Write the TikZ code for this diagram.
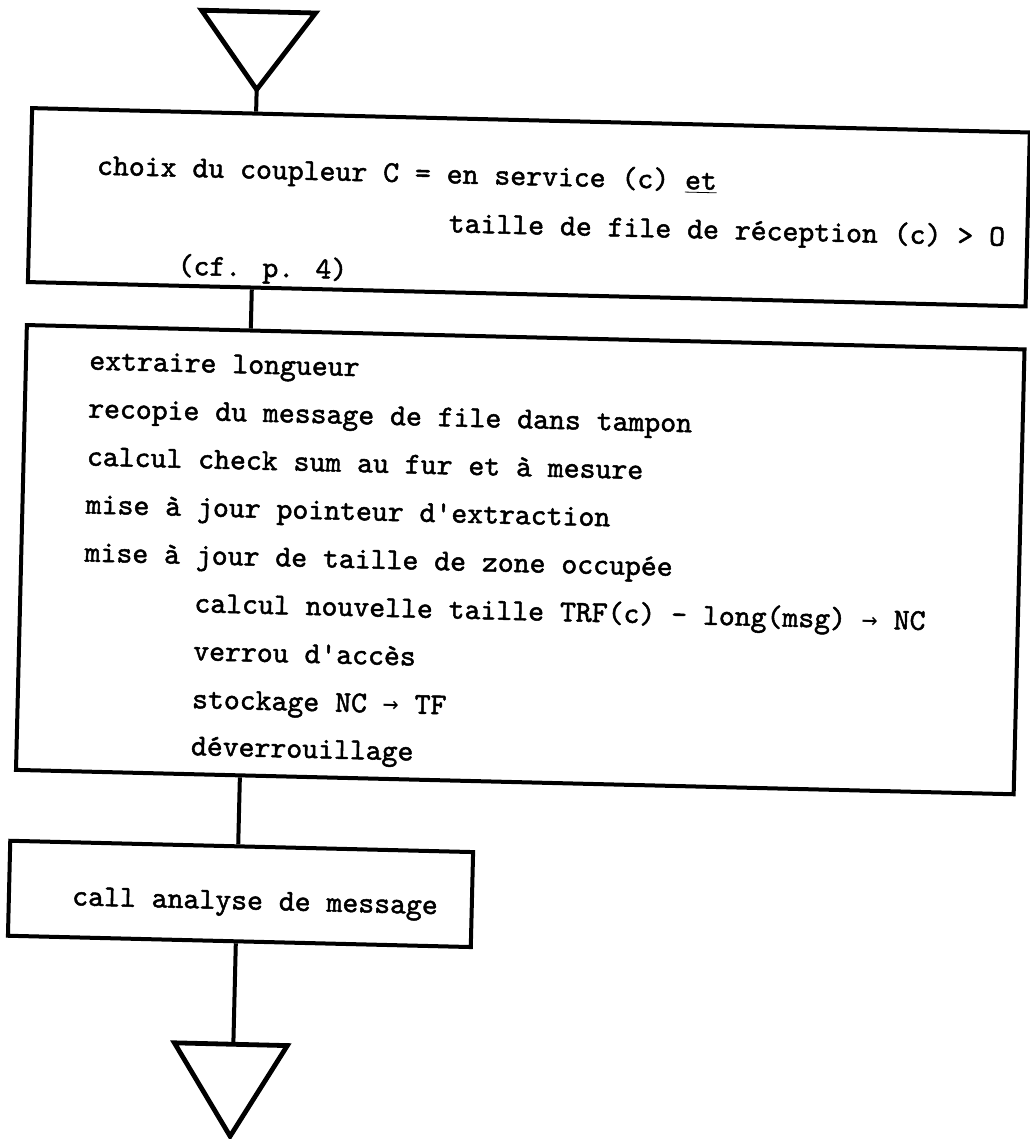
\documentclass[tikz,border=0pt]{standalone}
\usepackage{fontspec}
\newfontfamily\tw{lmmono10-regular}[Extension=.otf, FakeBold=1.6]
\newfontfamily\arrfont{DejaVu Sans Mono}
\usetikzlibrary{calc}
\newcommand{\tarr}{{\arrfont\fontsize{13.2}{16}\selectfont →}}
\begin{document}
\begin{tikzpicture}[x=0.5pt,y=-0.5pt,
  boxnode/.style={draw, line width=2pt, rectangle, inner sep=0pt},
  txt/.style={anchor=base west, inner sep=0pt, font=\tw\fontsize{15.14}{18}\selectfont},
  conn/.style={line width=2pt},
  tri/.style={line width=2.4pt, line join=miter}]
\useasboundingbox (0,0) rectangle (1029,1139);
\begin{scope}[rotate around={-1.4:(514,570)}, transform shape]
  % boxes
  \node[boxnode, minimum width=499pt, minimum height=87pt] (b1) at (520,207) {};
  \node[boxnode, minimum width=499pt, minimum height=222.5pt] (b2) at (520,559.5) {};
  \node[boxnode, minimum width=231.5pt, minimum height=47.5pt] (b3) at (248.5,900.5) {};
  % triangles
  \coordinate (t1a) at (245,96);
  \coordinate (t2) at (245,1051);
  \draw[tri] (188,18) -- (302,18) -- (t1a) -- cycle;
  \draw[tri] (186,1051) -- (299,1051) -- (244,1143) -- cycle;
  % connectors
  \draw[conn] (t1a) -- ($(b1.north west)!(t1a)!(b1.north east)$);
  \draw[conn] ($(b1.south west)!(t1a)!(b1.south east)$) -- ($(b2.north west)!(t1a)!(b2.north east)$);
  \draw[conn] ($(b2.south west)!(t1a)!(b2.south east)$) -- ($(b3.north west)!(t1a)!(b3.north east)$);
  \draw[conn] ($(b3.south west)!(t1a)!(b3.south east)$) -- (t2);
  % box 1 text
  \node[txt] (a1) at (87,185) {choix du coupleur C = en service (c) \underline{et}};
  \node[txt] (a2) at (440,234) {taille de file de réception (c) > O};
  \node[txt] (a3) at (170,283) {(cf. p. 4)};
  % box 2 text
  \node[txt] (c1) at (84,380) {extraire longueur};
  \node[txt] (c2) at (84,428) {recopie du message de file dans tampon};
  \node[txt] (c3) at (84,476) {calcul check sum au fur et à mesure};
  \node[txt] (c4) at (84,524) {mise à jour pointeur d'extraction};
  \node[txt] (c5) at (84,572) {mise à jour de taille de zone occupée};
  \node[txt] (c6) at (195,620) {calcul nouvelle taille TRF(c) - long(msg) \tarr{} NC};
  \node[txt] (c7) at (195,668) {verrou d'accès};
  \node[txt] (c8) at (195,716) {stockage NC \tarr{} TF};
  \node[txt] (c9) at (195,763) {déverrouillage};
  % box 3 text
  \node[txt] (d1) at (80,916) {call analyse de message};
\end{scope}
\end{tikzpicture}
\end{document}
